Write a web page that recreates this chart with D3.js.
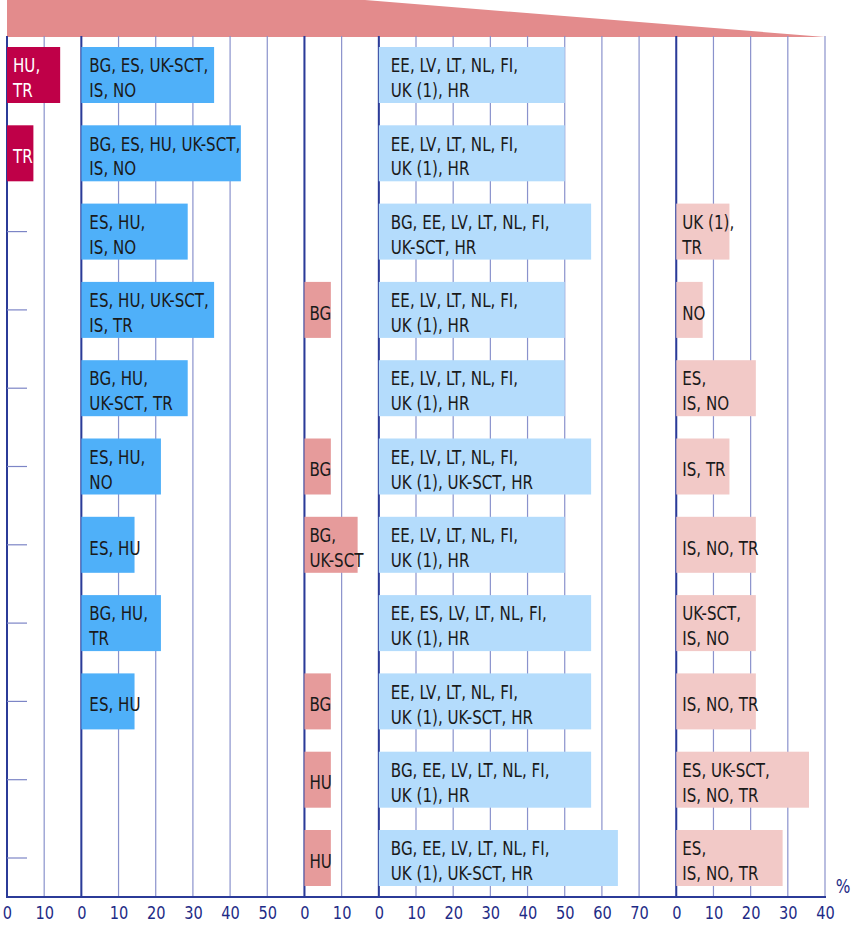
<!DOCTYPE html>
<html><head><meta charset="utf-8">
<script src="https://cdn.jsdelivr.net/npm/d3@7"></script>
<style>
html,body{margin:0;padding:0;background:#fff;}
text{font-family:"DejaVu Sans Condensed","Liberation Sans Narrow","Arial Narrow",sans-serif;font-stretch:condensed;}
</style></head>
<body><svg id="chart" width="852" height="926"></svg>
<script>
// ---- data ----
const panelNames = ["p1","p2","p3","p4","p5"];
const panelMax = [20, 60, 20, 80, 40];
const panelTicks = [[0,10],[0,10,20,30,40,50],[0,10],[0,10,20,30,40,50,60,70],[0,10,20,30,40]];
const panelColors = ["#bf0048","#4fb0f9","#e69b9b","#b4dcfc","#f2c9c7"];
const rows = [1,2,3,4,5,6,7,8,9,10,11];

const p1Values = [14.3, 7.1, 0, 0, 0, 0, 0, 0, 0, 0, 0];
const p1Labels = ["HU,\nTR","TR","","","","","","","","",""];
const p2Values = [35.7, 42.9, 28.6, 35.7, 28.6, 21.4, 14.3, 21.4, 14.3, 0, 0];
const p2Labels = ["BG, ES, UK-SCT,\nIS, NO","BG, ES, HU, UK-SCT,\nIS, NO","ES, HU,\nIS, NO","ES, HU, UK-SCT,\nIS, TR","BG, HU,\nUK-SCT, TR","ES, HU,\nNO","ES, HU","BG, HU,\nTR","ES, HU","",""];
const p3Values = [0, 0, 0, 7.1, 0, 7.1, 14.3, 0, 7.1, 7.1, 7.1];
const p3Labels = ["","","","BG","","BG","BG,\nUK-SCT","","BG","HU","HU"];
const p4Values = [50, 50, 57.1, 50, 50, 57.1, 50, 57.1, 57.1, 57.1, 64.3];
const p4Labels = ["EE, LV, LT, NL, FI,\nUK (1), HR","EE, LV, LT, NL, FI,\nUK (1), HR","BG, EE, LV, LT, NL, FI,\nUK-SCT, HR","EE, LV, LT, NL, FI,\nUK (1), HR","EE, LV, LT, NL, FI,\nUK (1), HR","EE, LV, LT, NL, FI,\nUK (1), UK-SCT, HR","EE, LV, LT, NL, FI,\nUK (1), HR","EE, ES, LV, LT, NL, FI,\nUK (1), HR","EE, LV, LT, NL, FI,\nUK (1), UK-SCT, HR","BG, EE, LV, LT, NL, FI,\nUK (1), HR","BG, EE, LV, LT, NL, FI,\nUK (1), UK-SCT, HR"];
const p5Values = [0, 0, 14.3, 7.1, 21.4, 14.3, 21.4, 21.4, 21.4, 35.7, 28.6];
const p5Labels = ["","","UK (1),\nTR","NO","ES,\nIS, NO","IS, TR","IS, NO, TR","UK-SCT,\nIS, NO","IS, NO, TR","ES, UK-SCT,\nIS, NO, TR","ES,\nIS, NO, TR"];
const unitLabel = "%";

const allValues = [p1Values,p2Values,p3Values,p4Values,p5Values];
const allLabels = [p1Labels,p2Labels,p3Labels,p4Labels,p5Labels];

// ---- layout ----
const svg = d3.select("#chart");
const mLeft = 7, mRight = 825, mTop = 36, mBottom = 897;
const totalUnits = d3.sum(panelMax);
const offsets = panelMax.map((m,i)=>d3.sum(panelMax.slice(0,i)));
const xAll = d3.scaleLinear().domain([0,totalUnits]).range([mLeft,mRight]);
const xs = panelMax.map((m,i)=>d3.scaleLinear().domain([0,m]).range([xAll(offsets[i]), xAll(offsets[i]+m)]));
const y = d3.scalePoint().domain(rows).range([75, 858]);
const barH = 56;
const textInset = [6, 8, 5, 12, 6];
const squeeze = 0.84;

// top wedge
svg.append("path")
  .attr("d", d3.line()([[mLeft,0],[365,0],[mRight,mTop+1],[mLeft,mTop+1]]) + "Z")
  .attr("fill","#e38b8c");

// grid lines
const grid = svg.append("g");
xs.forEach((sc,i)=>{
  const vals = d3.range(0, panelMax[i]+1, 10);
  grid.selectAll(null).data(vals).enter().append("line")
    .attr("x1",d=>sc(d)).attr("x2",d=>sc(d))
    .attr("y1",mTop).attr("y2",mBottom)
    .attr("stroke", d=> d===0 ? "#2b3b98" : "#8a92cc")
    .attr("stroke-width", d=> d===0 ? 2 : 1.2);
});
// row ticks on the left
grid.selectAll(null).data(rows).enter().append("line")
  .attr("x1",mLeft).attr("x2",mLeft+20)
  .attr("y1",d=>y(d)).attr("y2",d=>y(d))
  .attr("stroke","#7c85c6").attr("stroke-width",1.2);
// bottom line
grid.append("line").attr("x1",mLeft-1).attr("x2",mRight+1).attr("y1",mBottom).attr("y2",mBottom)
  .attr("stroke","#2b3b98").attr("stroke-width",1.8);

// bars
allValues.forEach((vals,pi)=>{
  const sc = xs[pi];
  const g = svg.append("g").attr("class",panelNames[pi]);
  const data = rows.map((r,i)=>({r, v:vals[i], label:allLabels[pi][i]})).filter(d=>d.v>0);
  g.selectAll("rect").data(data).enter().append("rect")
    .attr("x", sc(0)).attr("y", d=>y(d.r)-barH/2)
    .attr("width", d=>sc(d.v)-sc(0)).attr("height", barH)
    .attr("fill", panelColors[pi]);
  const t = g.selectAll("text").data(data).enter().append("text")
    .attr("transform", d=>`translate(${sc(0)+textInset[pi]},${y(d.r)+2.5}) scale(${squeeze},1)`)
    .attr("font-size", 20)
    .attr("fill", pi===0 ? "#ffffff" : "#1a1a1a");
  t.each(function(d){
    const lines = d.label.split("\n");
    const sel = d3.select(this);
    lines.forEach((ln,k)=>{
      sel.append("tspan").attr("x", 0)
        .attr("y", (k-(lines.length-1)/2)*25)
        .attr("dy","0.36em").text(ln);
    });
  });
});

// axes (tick labels)
xs.forEach((sc,i)=>{
  const ax = d3.axisBottom(sc).tickValues(panelTicks[i]).tickSize(0).tickPadding(9).tickFormat(d3.format("d"));
  const g = svg.append("g").attr("transform",`translate(0,${mBottom})`).call(ax);
  g.select(".domain").remove();
  g.selectAll("text").attr("font-size",18).attr("fill","#1e2b86")
    .attr("transform","scale(0.9,1)")
    .style("font-family",'"DejaVu Sans Condensed",sans-serif');
});
svg.append("text").attr("transform","translate(843,893) scale(0.9,1)").attr("text-anchor","middle")
  .attr("font-size",19).attr("fill","#1e2b86").text(unitLabel);
</script></body></html>
